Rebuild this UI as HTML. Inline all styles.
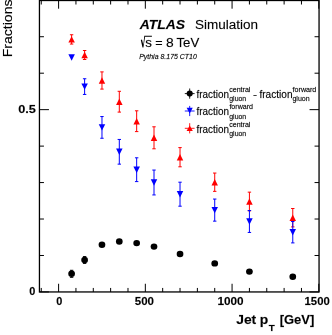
<!DOCTYPE html>
<html><head><meta charset="utf-8"><style>
html,body{margin:0;padding:0;background:#fff;}
body{width:332px;height:335px;overflow:hidden;}
svg{display:block;will-change:transform;}
text{font-family:"Liberation Sans",sans-serif;fill:#000;stroke:#000;stroke-width:0.3;stroke-opacity:0.4;}
</style></head><body>
<svg width="332" height="335" viewBox="0 0 332 335">
<rect width="332" height="335" fill="#fff"/>
<g>
<rect x="39.45" y="0.5" width="279.60" height="291.45" fill="none" stroke="#000" stroke-width="1.3"/>
<line x1="41.25" y1="291.95" x2="41.25" y2="287.95" stroke="#000" stroke-width="1.0"/>
<line x1="41.25" y1="0.50" x2="41.25" y2="4.50" stroke="#000" stroke-width="1.0"/>
<line x1="58.60" y1="291.95" x2="58.60" y2="283.75" stroke="#000" stroke-width="1.0"/>
<line x1="58.60" y1="0.50" x2="58.60" y2="8.70" stroke="#000" stroke-width="1.0"/>
<line x1="75.95" y1="291.95" x2="75.95" y2="287.95" stroke="#000" stroke-width="1.0"/>
<line x1="75.95" y1="0.50" x2="75.95" y2="4.50" stroke="#000" stroke-width="1.0"/>
<line x1="93.29" y1="291.95" x2="93.29" y2="287.95" stroke="#000" stroke-width="1.0"/>
<line x1="93.29" y1="0.50" x2="93.29" y2="4.50" stroke="#000" stroke-width="1.0"/>
<line x1="110.64" y1="291.95" x2="110.64" y2="287.95" stroke="#000" stroke-width="1.0"/>
<line x1="110.64" y1="0.50" x2="110.64" y2="4.50" stroke="#000" stroke-width="1.0"/>
<line x1="127.99" y1="291.95" x2="127.99" y2="287.95" stroke="#000" stroke-width="1.0"/>
<line x1="127.99" y1="0.50" x2="127.99" y2="4.50" stroke="#000" stroke-width="1.0"/>
<line x1="145.34" y1="291.95" x2="145.34" y2="283.75" stroke="#000" stroke-width="1.0"/>
<line x1="145.34" y1="0.50" x2="145.34" y2="8.70" stroke="#000" stroke-width="1.0"/>
<line x1="162.68" y1="291.95" x2="162.68" y2="287.95" stroke="#000" stroke-width="1.0"/>
<line x1="162.68" y1="0.50" x2="162.68" y2="4.50" stroke="#000" stroke-width="1.0"/>
<line x1="180.03" y1="291.95" x2="180.03" y2="287.95" stroke="#000" stroke-width="1.0"/>
<line x1="180.03" y1="0.50" x2="180.03" y2="4.50" stroke="#000" stroke-width="1.0"/>
<line x1="197.38" y1="291.95" x2="197.38" y2="287.95" stroke="#000" stroke-width="1.0"/>
<line x1="197.38" y1="0.50" x2="197.38" y2="4.50" stroke="#000" stroke-width="1.0"/>
<line x1="214.72" y1="291.95" x2="214.72" y2="287.95" stroke="#000" stroke-width="1.0"/>
<line x1="214.72" y1="0.50" x2="214.72" y2="4.50" stroke="#000" stroke-width="1.0"/>
<line x1="232.07" y1="291.95" x2="232.07" y2="283.75" stroke="#000" stroke-width="1.0"/>
<line x1="232.07" y1="0.50" x2="232.07" y2="8.70" stroke="#000" stroke-width="1.0"/>
<line x1="249.42" y1="291.95" x2="249.42" y2="287.95" stroke="#000" stroke-width="1.0"/>
<line x1="249.42" y1="0.50" x2="249.42" y2="4.50" stroke="#000" stroke-width="1.0"/>
<line x1="266.76" y1="291.95" x2="266.76" y2="287.95" stroke="#000" stroke-width="1.0"/>
<line x1="266.76" y1="0.50" x2="266.76" y2="4.50" stroke="#000" stroke-width="1.0"/>
<line x1="284.11" y1="291.95" x2="284.11" y2="287.95" stroke="#000" stroke-width="1.0"/>
<line x1="284.11" y1="0.50" x2="284.11" y2="4.50" stroke="#000" stroke-width="1.0"/>
<line x1="301.46" y1="291.95" x2="301.46" y2="287.95" stroke="#000" stroke-width="1.0"/>
<line x1="301.46" y1="0.50" x2="301.46" y2="4.50" stroke="#000" stroke-width="1.0"/>
<line x1="318.81" y1="291.95" x2="318.81" y2="283.75" stroke="#000" stroke-width="1.0"/>
<line x1="318.81" y1="0.50" x2="318.81" y2="8.70" stroke="#000" stroke-width="1.0"/>
<line x1="39.45" y1="291.95" x2="48.95" y2="291.95" stroke="#000" stroke-width="1.0"/>
<line x1="319.05" y1="291.95" x2="309.55" y2="291.95" stroke="#000" stroke-width="1.0"/>
<line x1="39.45" y1="255.49" x2="43.95" y2="255.49" stroke="#000" stroke-width="1.0"/>
<line x1="319.05" y1="255.49" x2="314.55" y2="255.49" stroke="#000" stroke-width="1.0"/>
<line x1="39.45" y1="219.03" x2="43.95" y2="219.03" stroke="#000" stroke-width="1.0"/>
<line x1="319.05" y1="219.03" x2="314.55" y2="219.03" stroke="#000" stroke-width="1.0"/>
<line x1="39.45" y1="182.57" x2="43.95" y2="182.57" stroke="#000" stroke-width="1.0"/>
<line x1="319.05" y1="182.57" x2="314.55" y2="182.57" stroke="#000" stroke-width="1.0"/>
<line x1="39.45" y1="146.11" x2="43.95" y2="146.11" stroke="#000" stroke-width="1.0"/>
<line x1="319.05" y1="146.11" x2="314.55" y2="146.11" stroke="#000" stroke-width="1.0"/>
<line x1="39.45" y1="109.65" x2="48.95" y2="109.65" stroke="#000" stroke-width="1.0"/>
<line x1="319.05" y1="109.65" x2="309.55" y2="109.65" stroke="#000" stroke-width="1.0"/>
<line x1="39.45" y1="73.19" x2="43.95" y2="73.19" stroke="#000" stroke-width="1.0"/>
<line x1="319.05" y1="73.19" x2="314.55" y2="73.19" stroke="#000" stroke-width="1.0"/>
<line x1="39.45" y1="36.73" x2="43.95" y2="36.73" stroke="#000" stroke-width="1.0"/>
<line x1="319.05" y1="36.73" x2="314.55" y2="36.73" stroke="#000" stroke-width="1.0"/>
<line x1="71.61" y1="34.75" x2="71.61" y2="44.05" stroke="#f00" stroke-width="1.0"/>
<line x1="69.91" y1="34.75" x2="73.31" y2="34.75" stroke="#f00" stroke-width="1.0"/>
<line x1="69.91" y1="44.05" x2="73.31" y2="44.05" stroke="#f00" stroke-width="1.0"/>
<polygon points="68.36,42.60 74.86,42.60 71.61,36.20" fill="#f00"/>
<polygon points="68.36,54.30 74.86,54.30 71.61,60.70" fill="#00f"/>
<line x1="71.61" y1="270.30" x2="71.61" y2="277.30" stroke="#000" stroke-width="1.0"/>
<line x1="69.91" y1="270.30" x2="73.31" y2="270.30" stroke="#000" stroke-width="1.0"/>
<line x1="69.91" y1="277.30" x2="73.31" y2="277.30" stroke="#000" stroke-width="1.0"/>
<ellipse cx="71.61" cy="273.80" rx="3.35" ry="3.2" fill="#000"/>
<line x1="84.62" y1="50.50" x2="84.62" y2="59.50" stroke="#f00" stroke-width="1.0"/>
<line x1="82.92" y1="50.50" x2="86.32" y2="50.50" stroke="#f00" stroke-width="1.0"/>
<line x1="82.92" y1="59.50" x2="86.32" y2="59.50" stroke="#f00" stroke-width="1.0"/>
<polygon points="81.37,58.20 87.87,58.20 84.62,51.80" fill="#f00"/>
<line x1="84.62" y1="78.75" x2="84.62" y2="94.45" stroke="#00f" stroke-width="1.0"/>
<line x1="82.92" y1="78.75" x2="86.32" y2="78.75" stroke="#00f" stroke-width="1.0"/>
<line x1="82.92" y1="94.45" x2="86.32" y2="94.45" stroke="#00f" stroke-width="1.0"/>
<polygon points="81.37,83.40 87.87,83.40 84.62,89.80" fill="#00f"/>
<line x1="84.62" y1="256.60" x2="84.62" y2="263.40" stroke="#000" stroke-width="1.0"/>
<line x1="82.92" y1="256.60" x2="86.32" y2="256.60" stroke="#000" stroke-width="1.0"/>
<line x1="82.92" y1="263.40" x2="86.32" y2="263.40" stroke="#000" stroke-width="1.0"/>
<ellipse cx="84.62" cy="260.00" rx="3.35" ry="3.2" fill="#000"/>
<line x1="101.97" y1="71.90" x2="101.97" y2="89.10" stroke="#f00" stroke-width="1.0"/>
<line x1="100.27" y1="71.90" x2="103.67" y2="71.90" stroke="#f00" stroke-width="1.0"/>
<line x1="100.27" y1="89.10" x2="103.67" y2="89.10" stroke="#f00" stroke-width="1.0"/>
<polygon points="98.72,83.70 105.22,83.70 101.97,77.30" fill="#f00"/>
<line x1="101.97" y1="116.55" x2="101.97" y2="138.25" stroke="#00f" stroke-width="1.0"/>
<line x1="100.27" y1="116.55" x2="103.67" y2="116.55" stroke="#00f" stroke-width="1.0"/>
<line x1="100.27" y1="138.25" x2="103.67" y2="138.25" stroke="#00f" stroke-width="1.0"/>
<polygon points="98.72,124.20 105.22,124.20 101.97,130.60" fill="#00f"/>
<ellipse cx="101.97" cy="244.80" rx="3.35" ry="3.2" fill="#000"/>
<line x1="119.31" y1="91.30" x2="119.31" y2="112.10" stroke="#f00" stroke-width="1.0"/>
<line x1="117.61" y1="91.30" x2="121.01" y2="91.30" stroke="#f00" stroke-width="1.0"/>
<line x1="117.61" y1="112.10" x2="121.01" y2="112.10" stroke="#f00" stroke-width="1.0"/>
<polygon points="116.06,104.90 122.56,104.90 119.31,98.50" fill="#f00"/>
<line x1="119.31" y1="139.45" x2="119.31" y2="164.15" stroke="#00f" stroke-width="1.0"/>
<line x1="117.61" y1="139.45" x2="121.01" y2="139.45" stroke="#00f" stroke-width="1.0"/>
<line x1="117.61" y1="164.15" x2="121.01" y2="164.15" stroke="#00f" stroke-width="1.0"/>
<polygon points="116.06,148.60 122.56,148.60 119.31,155.00" fill="#00f"/>
<ellipse cx="119.31" cy="241.50" rx="3.35" ry="3.2" fill="#000"/>
<line x1="136.66" y1="110.80" x2="136.66" y2="131.60" stroke="#f00" stroke-width="1.0"/>
<line x1="134.96" y1="110.80" x2="138.36" y2="110.80" stroke="#f00" stroke-width="1.0"/>
<line x1="134.96" y1="131.60" x2="138.36" y2="131.60" stroke="#f00" stroke-width="1.0"/>
<polygon points="133.41,124.40 139.91,124.40 136.66,118.00" fill="#f00"/>
<line x1="136.66" y1="157.80" x2="136.66" y2="181.60" stroke="#00f" stroke-width="1.0"/>
<line x1="134.96" y1="157.80" x2="138.36" y2="157.80" stroke="#00f" stroke-width="1.0"/>
<line x1="134.96" y1="181.60" x2="138.36" y2="181.60" stroke="#00f" stroke-width="1.0"/>
<polygon points="133.41,166.50 139.91,166.50 136.66,172.90" fill="#00f"/>
<ellipse cx="136.66" cy="243.10" rx="3.35" ry="3.2" fill="#000"/>
<line x1="154.01" y1="126.80" x2="154.01" y2="148.80" stroke="#f00" stroke-width="1.0"/>
<line x1="152.31" y1="126.80" x2="155.71" y2="126.80" stroke="#f00" stroke-width="1.0"/>
<line x1="152.31" y1="148.80" x2="155.71" y2="148.80" stroke="#f00" stroke-width="1.0"/>
<polygon points="150.76,141.00 157.26,141.00 154.01,134.60" fill="#f00"/>
<line x1="154.01" y1="170.05" x2="154.01" y2="194.95" stroke="#00f" stroke-width="1.0"/>
<line x1="152.31" y1="170.05" x2="155.71" y2="170.05" stroke="#00f" stroke-width="1.0"/>
<line x1="152.31" y1="194.95" x2="155.71" y2="194.95" stroke="#00f" stroke-width="1.0"/>
<polygon points="150.76,179.30 157.26,179.30 154.01,185.70" fill="#00f"/>
<ellipse cx="154.01" cy="246.60" rx="3.35" ry="3.2" fill="#000"/>
<line x1="180.03" y1="147.60" x2="180.03" y2="166.80" stroke="#f00" stroke-width="1.0"/>
<line x1="178.33" y1="147.60" x2="181.73" y2="147.60" stroke="#f00" stroke-width="1.0"/>
<line x1="178.33" y1="166.80" x2="181.73" y2="166.80" stroke="#f00" stroke-width="1.0"/>
<polygon points="176.78,160.40 183.28,160.40 180.03,154.00" fill="#f00"/>
<line x1="180.03" y1="182.20" x2="180.03" y2="206.20" stroke="#00f" stroke-width="1.0"/>
<line x1="178.33" y1="182.20" x2="181.73" y2="182.20" stroke="#00f" stroke-width="1.0"/>
<line x1="178.33" y1="206.20" x2="181.73" y2="206.20" stroke="#00f" stroke-width="1.0"/>
<polygon points="176.78,191.00 183.28,191.00 180.03,197.40" fill="#00f"/>
<ellipse cx="180.03" cy="254.00" rx="3.35" ry="3.2" fill="#000"/>
<line x1="214.72" y1="173.05" x2="214.72" y2="191.35" stroke="#f00" stroke-width="1.0"/>
<line x1="213.02" y1="173.05" x2="216.42" y2="173.05" stroke="#f00" stroke-width="1.0"/>
<line x1="213.02" y1="191.35" x2="216.42" y2="191.35" stroke="#f00" stroke-width="1.0"/>
<polygon points="211.47,185.40 217.97,185.40 214.72,179.00" fill="#f00"/>
<line x1="214.72" y1="199.05" x2="214.72" y2="221.15" stroke="#00f" stroke-width="1.0"/>
<line x1="213.02" y1="199.05" x2="216.42" y2="199.05" stroke="#00f" stroke-width="1.0"/>
<line x1="213.02" y1="221.15" x2="216.42" y2="221.15" stroke="#00f" stroke-width="1.0"/>
<polygon points="211.47,206.90 217.97,206.90 214.72,213.30" fill="#00f"/>
<ellipse cx="214.72" cy="263.40" rx="3.35" ry="3.2" fill="#000"/>
<line x1="249.42" y1="192.15" x2="249.42" y2="210.85" stroke="#f00" stroke-width="1.0"/>
<line x1="247.72" y1="192.15" x2="251.12" y2="192.15" stroke="#f00" stroke-width="1.0"/>
<line x1="247.72" y1="210.85" x2="251.12" y2="210.85" stroke="#f00" stroke-width="1.0"/>
<polygon points="246.17,204.70 252.67,204.70 249.42,198.30" fill="#f00"/>
<line x1="249.42" y1="210.55" x2="249.42" y2="232.45" stroke="#00f" stroke-width="1.0"/>
<line x1="247.72" y1="210.55" x2="251.12" y2="210.55" stroke="#00f" stroke-width="1.0"/>
<line x1="247.72" y1="232.45" x2="251.12" y2="232.45" stroke="#00f" stroke-width="1.0"/>
<polygon points="246.17,218.30 252.67,218.30 249.42,224.70" fill="#00f"/>
<ellipse cx="249.42" cy="271.60" rx="3.35" ry="3.2" fill="#000"/>
<line x1="292.78" y1="208.50" x2="292.78" y2="226.90" stroke="#f00" stroke-width="1.0"/>
<line x1="291.08" y1="208.50" x2="294.48" y2="208.50" stroke="#f00" stroke-width="1.0"/>
<line x1="291.08" y1="226.90" x2="294.48" y2="226.90" stroke="#f00" stroke-width="1.0"/>
<polygon points="289.53,220.90 296.03,220.90 292.78,214.50" fill="#f00"/>
<line x1="292.78" y1="221.50" x2="292.78" y2="242.90" stroke="#00f" stroke-width="1.0"/>
<line x1="291.08" y1="221.50" x2="294.48" y2="221.50" stroke="#00f" stroke-width="1.0"/>
<line x1="291.08" y1="242.90" x2="294.48" y2="242.90" stroke="#00f" stroke-width="1.0"/>
<polygon points="289.53,229.00 296.03,229.00 292.78,235.40" fill="#00f"/>
<ellipse cx="292.78" cy="276.70" rx="3.35" ry="3.2" fill="#000"/>
<line x1="184.80" y1="93.60" x2="194.60" y2="93.60" stroke="#000" stroke-width="0.9"/>
<line x1="189.70" y1="88.50" x2="189.70" y2="98.70" stroke="#000" stroke-width="0.9"/>
<circle cx="189.7" cy="93.6" r="3.05" fill="#000"/>
<line x1="184.80" y1="111.00" x2="194.60" y2="111.00" stroke="#00f" stroke-width="0.9"/>
<line x1="189.70" y1="105.90" x2="189.70" y2="116.10" stroke="#00f" stroke-width="0.9"/>
<polygon points="186.65,107.70 192.75,107.70 189.70,113.50" fill="#00f"/>
<line x1="184.80" y1="128.30" x2="194.60" y2="128.30" stroke="#f00" stroke-width="0.9"/>
<line x1="189.70" y1="123.20" x2="189.70" y2="133.40" stroke="#f00" stroke-width="0.9"/>
<polygon points="186.60,131.10 192.80,131.10 189.70,125.50" fill="#f00"/>
<text transform="translate(139.68,28.96) scale(1.0178,1)" font-size="13.66" font-weight="bold" font-style="italic">ATLAS</text>
<text transform="translate(194.89,28.97) scale(1.0132,1)" font-size="13.33" font-weight="normal" font-style="normal">Simulation</text>
<text transform="translate(145.20,46.60) scale(1.0753,1)" font-size="12.40" font-weight="normal" font-style="normal">s</text>
<text transform="translate(155.27,46.60) scale(1.0143,1)" font-size="12.40" font-weight="normal" font-style="normal">=</text>
<text transform="translate(165.88,46.75) scale(1.0477,1)" font-size="13.20" font-weight="normal" font-style="normal">8</text>
<text transform="translate(176.47,46.60) scale(1.0488,1)" font-size="12.60" font-weight="normal" font-style="normal">TeV</text>
<polygon points="140.8,40.0 142.0,39.4 143.3,44.8 144.3,35.7 151.9,35.7 151.9,36.75 145.1,36.75 143.4,47.5 142.5,47.5" fill="#000"/>
<text transform="translate(139.19,58.75) scale(1.0107,1)" font-size="6.90" font-weight="normal" font-style="italic">Pythia 8.175 CT10</text>
<text transform="translate(196.45,97.50) scale(0.9839,1)" font-size="10.10" font-weight="normal" font-style="normal">fraction</text>
<text transform="translate(229.18,91.80) scale(1.0280,1)" font-size="6.90" font-weight="normal" font-style="normal">central</text>
<text transform="translate(229.22,101.20) scale(1.0095,1)" font-size="6.90" font-weight="normal" font-style="normal">gluon</text>
<text transform="translate(253.05,97.50) scale(1.2755,1)" font-size="9.60" font-weight="normal" font-style="normal">-</text>
<text transform="translate(259.45,97.50) scale(0.9994,1)" font-size="10.10" font-weight="normal" font-style="normal">fraction</text>
<text transform="translate(292.59,91.80) scale(1.0330,1)" font-size="6.90" font-weight="normal" font-style="normal">forward</text>
<text transform="translate(292.42,101.20) scale(1.0219,1)" font-size="6.90" font-weight="normal" font-style="normal">gluon</text>
<text transform="translate(196.45,115.00) scale(0.9839,1)" font-size="10.10" font-weight="normal" font-style="normal">fraction</text>
<text transform="translate(229.39,109.30) scale(1.0285,1)" font-size="6.90" font-weight="normal" font-style="normal">forward</text>
<text transform="translate(229.22,118.70) scale(1.0095,1)" font-size="6.90" font-weight="normal" font-style="normal">gluon</text>
<text transform="translate(196.45,132.50) scale(0.9839,1)" font-size="10.10" font-weight="normal" font-style="normal">fraction</text>
<text transform="translate(229.18,126.80) scale(1.0280,1)" font-size="6.90" font-weight="normal" font-style="normal">central</text>
<text transform="translate(229.22,136.20) scale(1.0095,1)" font-size="6.90" font-weight="normal" font-style="normal">gluon</text>
<text transform="translate(56.26,304.79) scale(1.0227,1)" font-size="10.70" font-weight="bold" font-style="normal">0</text>
<text transform="translate(134.75,304.79) scale(1.0468,1)" font-size="10.99" font-weight="bold" font-style="normal">500</text>
<text transform="translate(217.44,304.79) scale(1.0691,1)" font-size="10.99" font-weight="bold" font-style="normal">1000</text>
<text transform="translate(304.56,304.79) scale(1.0305,1)" font-size="10.99" font-weight="bold" font-style="normal">1500</text>
<text transform="translate(29.16,295.49) scale(1.0227,1)" font-size="10.70" font-weight="bold" font-style="normal">0</text>
<text transform="translate(18.19,112.98) scale(1.0887,1)" font-size="11.69" font-weight="bold" font-style="normal">0.5</text>
<text transform="translate(236.19,323.67) scale(1.0442,1)" font-size="13.29" font-weight="bold" font-style="normal">Jet</text>
<text transform="translate(259.70,323.60) scale(1.1001,1)" font-size="12.60" font-weight="bold" font-style="normal">p</text>
<text transform="translate(268.80,331.00) scale(1.0031,1)" font-size="9.80" font-weight="bold" font-style="normal">T</text>
<text transform="translate(279.69,323.60) scale(1.0479,1)" font-size="12.40" font-weight="bold" font-style="normal">[GeV]</text>
<text transform="translate(11.7,57.33) rotate(-90) scale(1.0362,1)" font-size="13.6">Fractions</text>
</g>
</svg>
</body></html>
